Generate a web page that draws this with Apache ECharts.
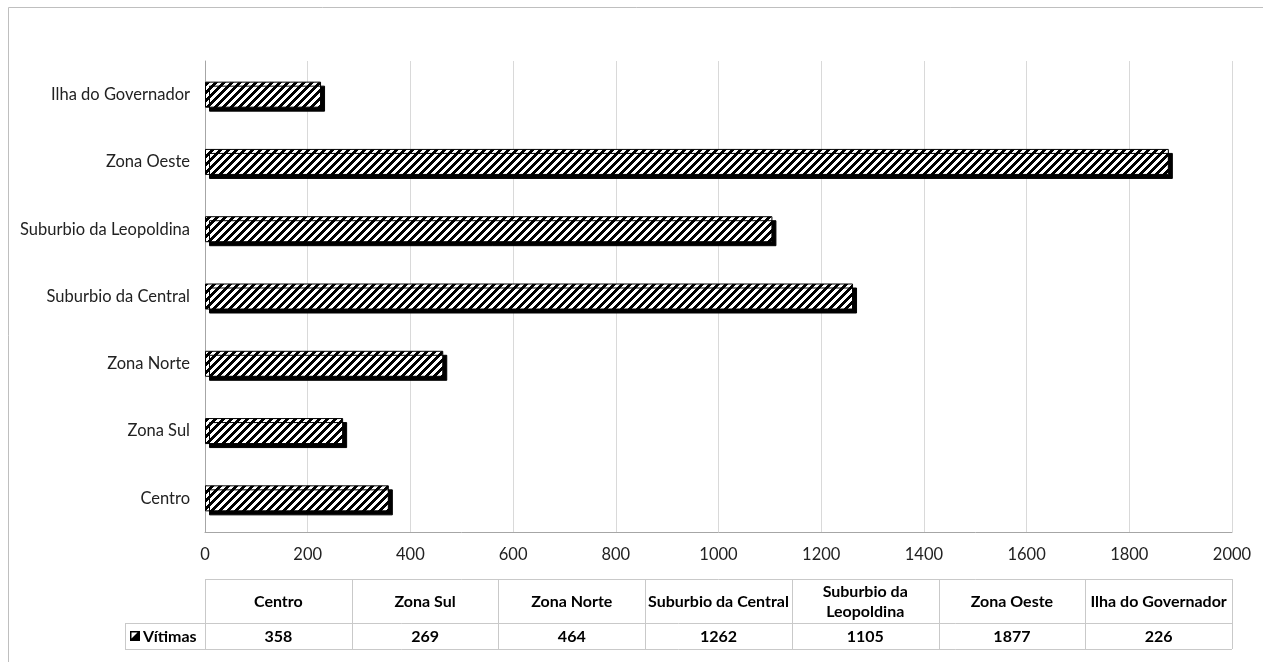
<!DOCTYPE html>
<html>
<head>
<meta charset="utf-8">
<title>Vítimas por região</title>
<script src="https://cdn.jsdelivr.net/npm/echarts@6/dist/echarts.min.js"></script>
<style>
  html, body { margin: 0; padding: 0; background: #fff; }
  #chart { width: 1263px; height: 662px; }
</style>
</head>
<body>
<div id="chart"></div>
<script>
// Regions, bottom to top on the category axis and left to right in the table
const regions = ['Centro', 'Zona Sul', 'Zona Norte', 'Suburbio da Central', 'Suburbio da Leopoldina', 'Zona Oeste', 'Ilha do Governador'];
// Header text for the data table (long names wrap to two lines)
const tableHeaders = ['Centro', 'Zona Sul', 'Zona Norte', 'Suburbio da Central', 'Suburbio da\nLeopoldina', 'Zona Oeste', 'Ilha do Governador'];
const seriesName = 'Vítimas';
const victims = [358, 269, 464, 1262, 1105, 1877, 226];
const xTicks = [0, 200, 400, 600, 800, 1000, 1200, 1400, 1600, 1800, 2000];

const FONT = 'Lato, "Open Sans", sans-serif';
const TEXT = '#222';

// Upward diagonal hatch used to fill the bars
function hatchPattern() {
  const c = document.createElement('canvas');
  c.width = 8; c.height = 8;
  const ctx = c.getContext('2d');
  const img = ctx.createImageData(8, 8);
  for (let y = 0; y < 8; y++) {
    for (let x = 0; x < 8; x++) {
      const black = ((x + y) % 8) < 4;
      const i = (y * 8 + x) * 4;
      const v = black ? 0 : 255;
      img.data[i] = v; img.data[i + 1] = v; img.data[i + 2] = v; img.data[i + 3] = 255;
    }
  }
  ctx.putImageData(img, 0, 0);
  return c;
}

const GRID = { left: 205, right: 31, top: 61, bottom: 130 };
const W = 1263;
const plotLeft = GRID.left;
const plotRight = W - GRID.right;

// Data table under the plot
function buildTable() {
  const els = [];
  const n = regions.length;
  const colW = (plotRight - plotLeft) / n;
  const headTop = 579, headBottom = 623, rowBottom = 649;
  const labelLeft = 125;
  const line = { stroke: '#c9c9c9', lineWidth: 1 };
  const h = (x1, x2, y) => ({ type: 'line', shape: { x1, y1: y + 0.5, x2, y2: y + 0.5 }, style: line, silent: true });
  const v = (x, y1, y2) => ({ type: 'line', shape: { x1: Math.round(x) + 0.5, y1, x2: Math.round(x) + 0.5, y2 }, style: line, silent: true });

  els.push(h(plotLeft, plotRight, headTop));
  els.push(h(labelLeft, plotRight, headBottom));
  els.push(h(labelLeft, plotRight, rowBottom));
  els.push(v(labelLeft, headBottom, rowBottom));
  for (let i = 0; i <= n; i++) els.push(v(plotLeft + i * colW, headTop, rowBottom));

  for (let i = 0; i < n; i++) {
    const cx = plotLeft + (i + 0.5) * colW;
    els.push({
      type: 'text', silent: true,
      style: { x: cx, y: (headTop + headBottom) / 2 + 1, text: tableHeaders[i], align: 'center', verticalAlign: 'middle',
               font: 'bold 16px ' + FONT, fill: '#000', lineHeight: 20 }
    });
    els.push({
      type: 'text', silent: true,
      style: { x: cx, y: (headBottom + rowBottom) / 2 + 1, text: String(victims[i]), align: 'center', verticalAlign: 'middle',
               font: 'bold 16px ' + FONT, fill: '#000' }
    });
  }
  // series key + name in the row header
  const ky = (headBottom + rowBottom) / 2 - 5;
  els.push({ type: 'rect', silent: true, shape: { x: 130, y: ky, width: 10, height: 10 }, style: { fill: '#000' } });
  els.push({ type: 'polygon', silent: true, shape: { points: [[131.5, ky + 1.5], [137.5, ky + 1.5], [131.5, ky + 7.5]] }, style: { fill: '#fff' } });
  els.push({
    type: 'text', silent: true,
    style: { x: 143, y: (headBottom + rowBottom) / 2 + 1, text: seriesName, align: 'left', verticalAlign: 'middle',
             font: 'bold 16px ' + FONT, fill: '#000' }
  });
  // outer chart frame
  els.push({ type: 'rect', silent: true, shape: { x: 8.5, y: 7.5, width: 1400, height: 1000 }, style: { fill: 'none', stroke: '#bfbfbf', lineWidth: 1 } });
  return els;
}

const chart = echarts.init(document.getElementById('chart'), null, { renderer: 'canvas' });
chart.setOption({
  animation: false,
  backgroundColor: '#fff',
  grid: GRID,
  xAxis: {
    type: 'value',
    min: xTicks[0],
    max: xTicks[xTicks.length - 1],
    interval: xTicks[1] - xTicks[0],
    axisLine: { show: true, lineStyle: { color: '#a6a6a6', width: 1 } },
    axisTick: { show: false },
    axisLabel: { color: TEXT, fontFamily: FONT, fontSize: 16.5, margin: 14, formatter: (v) => String(v) },
    splitLine: { show: true, lineStyle: { color: '#d9d9d9', width: 1 } }
  },
  yAxis: {
    type: 'category',
    data: regions,
    axisLine: { show: true, lineStyle: { color: '#a6a6a6', width: 1 } },
    axisTick: { show: false },
    axisLabel: { color: TEXT, fontFamily: FONT, fontSize: 16.5, margin: 15 },
    splitLine: { show: false }
  },
  series: [{
    name: seriesName,
    type: 'bar',
    data: victims,
    barWidth: 26,
    itemStyle: {
      color: { image: hatchPattern(), repeat: 'repeat' },
      borderColor: '#000',
      borderWidth: 1,
      shadowColor: '#000',
      shadowBlur: 0,
      shadowOffsetX: 4,
      shadowOffsetY: 4
    }
  }],
  graphic: buildTable()
});
</script>
</body>
</html>
